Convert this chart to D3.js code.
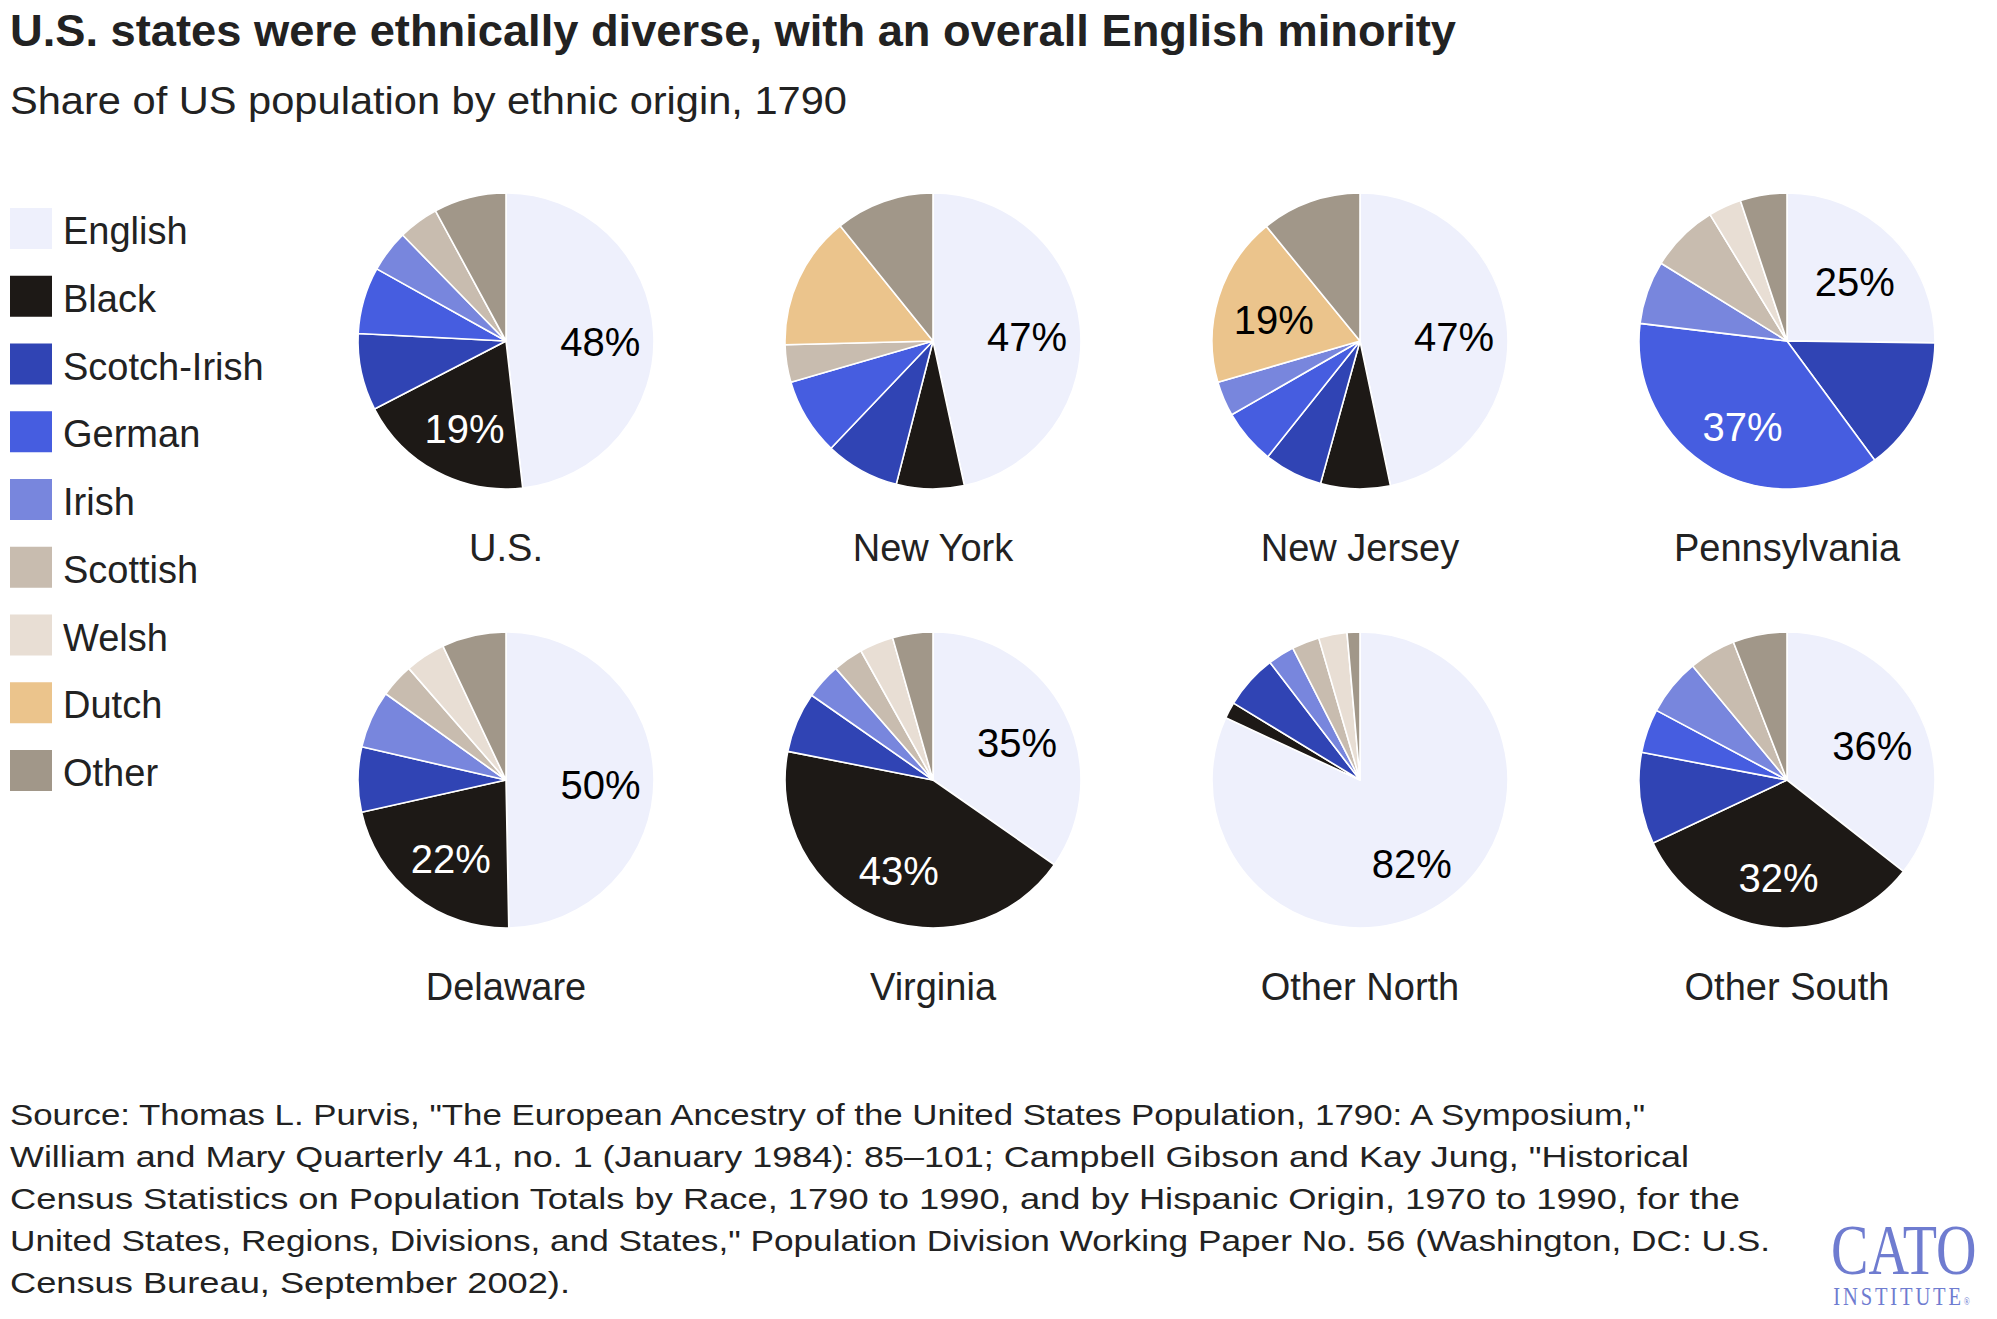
<!DOCTYPE html>
<html>
<head>
<meta charset="utf-8">
<script src="https://cdn.jsdelivr.net/npm/d3@7"></script>
<style>
  html, body { margin: 0; padding: 0; background: #ffffff; }
  svg { display: block; }
  text { font-family: "Liberation Sans", Arial, sans-serif; }
</style>
</head>
<body>
<svg id="chart" width="1997" height="1319"></svg>
<script>
// ---------------- DATA ----------------
const categories = ["English", "Black", "Scotch-Irish", "German", "Irish", "Scottish", "Welsh", "Dutch", "Other"];
const categoryColors = ["#eef0fc", "#1d1916", "#3044b4", "#465de0", "#7886dd", "#c8bcaf", "#e8ded4", "#ebc48c", "#a19789"];

const regions = ["U.S.", "New York", "New Jersey", "Pennsylvania", "Delaware", "Virginia", "Other North", "Other South"];

// Share (%) per category, in the order of `categories`
const usValues           = [48.2, 19.2,  8.4,  7.3, 4.6, 4.4, 0,   0,    7.9];
const newYorkValues      = [46.6,  7.4,  8.1,  8.4, 0,   4.1, 0,   14.6, 10.8];
const newJerseyValues    = [46.7,  7.6,  6.4,  6.0, 3.8, 0,   0,   18.6, 10.9];
const pennsylvaniaValues = [25.2,  0,   14.7, 37.0, 6.9, 7.5, 3.6, 0,    5.1];
const delawareValues     = [49.7, 21.8,  7.1,  0,   6.3, 3.7, 4.4, 0,    7.0];
const virginiaValues     = [34.7, 43.4,  6.6,  0,   3.9, 3.3, 3.7, 0,    4.4];
const otherNorthValues   = [81.9,  1.8,  5.9,  0,   2.9, 3.0, 3.1, 0,    1.4];
const otherSouthValues   = [35.6, 32.4, 10.0,  4.8, 6.2, 5.1, 0,   0,    5.9];

const regionValues = [usValues, newYorkValues, newJerseyValues, pennsylvaniaValues,
                      delawareValues, virginiaValues, otherNorthValues, otherSouthValues];

const titleText = "U.S. states were ethnically diverse, with an overall English minority";
const subtitleText = "Share of US population by ethnic origin, 1790";
const sourceLines = [
  "Source: Thomas L. Purvis, \"The European Ancestry of the United States Population, 1790: A Symposium,\"",
  "William and Mary Quarterly 41, no. 1 (January 1984): 85\u2013101; Campbell Gibson and Kay Jung, \"Historical",
  "Census Statistics on Population Totals by Race, 1790 to 1990, and by Hispanic Origin, 1970 to 1990, for the",
  "United States, Regions, Divisions, and States,\" Population Division Working Paper No. 56 (Washington, DC: U.S.",
  "Census Bureau, September 2002)."
];
const labelThreshold = 15;

// ---------------- CHART ----------------
const svg = d3.select("#chart");
const textColor = "#222222";

const color = d3.scaleOrdinal().domain(categories).range(categoryColors);

function fitWidth(sel, target) {
  const w = sel.node().getComputedTextLength();
  if (Math.abs(w - target) > 3) {
    sel.attr("textLength", target).attr("lengthAdjust", "spacingAndGlyphs");
  }
}

// Title & subtitle
const title = svg.append("text")
  .attr("x", 10).attr("y", 46)
  .attr("font-size", 44).attr("font-weight", "bold")
  .attr("fill", textColor)
  .text(titleText);
fitWidth(title, 1446);

const subtitle = svg.append("text")
  .attr("x", 10).attr("y", 114)
  .attr("font-size", 38)
  .attr("fill", textColor)
  .text(subtitleText);
fitWidth(subtitle, 837);

// Legend
const legendY = d3.scalePoint().domain(categories).range([229, 771]);
const legend = svg.append("g").attr("class", "legend");
const li = legend.selectAll("g").data(categories).join("g")
  .attr("transform", d => `translate(10,${legendY(d)})`);
li.append("rect")
  .attr("x", 0).attr("y", -21).attr("width", 42).attr("height", 41)
  .attr("fill", d => color(d));
li.append("text")
  .attr("x", 53).attr("y", 15)
  .attr("font-size", 38)
  .attr("fill", textColor)
  .text(d => d);

// Pies
const radius = 148;
const colX = d3.scalePoint().domain([0, 1, 2, 3]).range([506, 1787]);
const rowY = d3.scalePoint().domain([0, 1]).range([341, 780]);

const pie = d3.pie().sort(null).value(d => d.value);
const arc = d3.arc().innerRadius(0).outerRadius(radius);
const labelArc = d3.arc().innerRadius(0).outerRadius(radius * 1.25);

regions.forEach((name, i) => {
  const data = categories.map((c, k) => ({ category: c, value: regionValues[i][k] }));
  const arcs = pie(data).filter(a => a.data.value > 0);
  const g = svg.append("g")
    .attr("transform", `translate(${colX(i % 4)},${rowY(Math.floor(i / 4))})`);

  g.selectAll("path").data(arcs).join("path")
    .attr("d", arc)
    .attr("fill", d => color(d.data.category))
    .attr("stroke", "#ffffff")
    .attr("stroke-width", 1.6)
    .attr("stroke-linejoin", "round");

  g.selectAll("text.pct").data(arcs.filter(a => a.data.value >= labelThreshold)).join("text")
    .attr("class", "pct")
    .attr("transform", d => {
      const [cx, cy] = labelArc.centroid(d);
      return `translate(${cx + 2},${cy + 6})`;
    })
    .attr("text-anchor", "middle")
    .attr("dominant-baseline", "central")
    .attr("font-size", 40)
    .attr("fill", d => d3.hsl(color(d.data.category)).l < 0.6 ? "#ffffff" : "#000000")
    .text(d => Math.round(d.data.value) + "%");

  g.append("text")
    .attr("x", 0).attr("y", 220)
    .attr("text-anchor", "middle")
    .attr("font-size", 38)
    .attr("fill", textColor)
    .text(name);
});

// Source
const sourceY = d3.scalePoint().domain(d3.range(sourceLines.length)).range([1125, 1293]);
const sourceWidths = [1635, 1679, 1730, 1760, 560];
sourceLines.forEach((line, i) => {
  const t = svg.append("text")
    .attr("x", 10).attr("y", sourceY(i))
    .attr("font-size", 30)
    .attr("fill", textColor)
    .text(line);
  fitWidth(t, sourceWidths[i]);
});

// CATO logo (one text element, horizontally condensed)
const logo = svg.append("text")
  .attr("transform", "translate(1831,0) scale(0.79,1)")
  .attr("fill", "#6f7cd0")
  .style("font-family", "'Liberation Serif', 'DejaVu Serif', serif");
logo.append("tspan")
  .attr("x", 0).attr("y", 1274)
  .attr("font-size", 71)
  .text("CATO");
logo.append("tspan")
  .attr("x", 3).attr("y", 1305)
  .attr("font-size", 26)
  .attr("letter-spacing", 3.6)
  .text("INSTITUTE");
logo.append("tspan")
  .attr("font-size", 10)
  .attr("letter-spacing", 0)
  .text("\u00AE");
</script>
</body>
</html>
